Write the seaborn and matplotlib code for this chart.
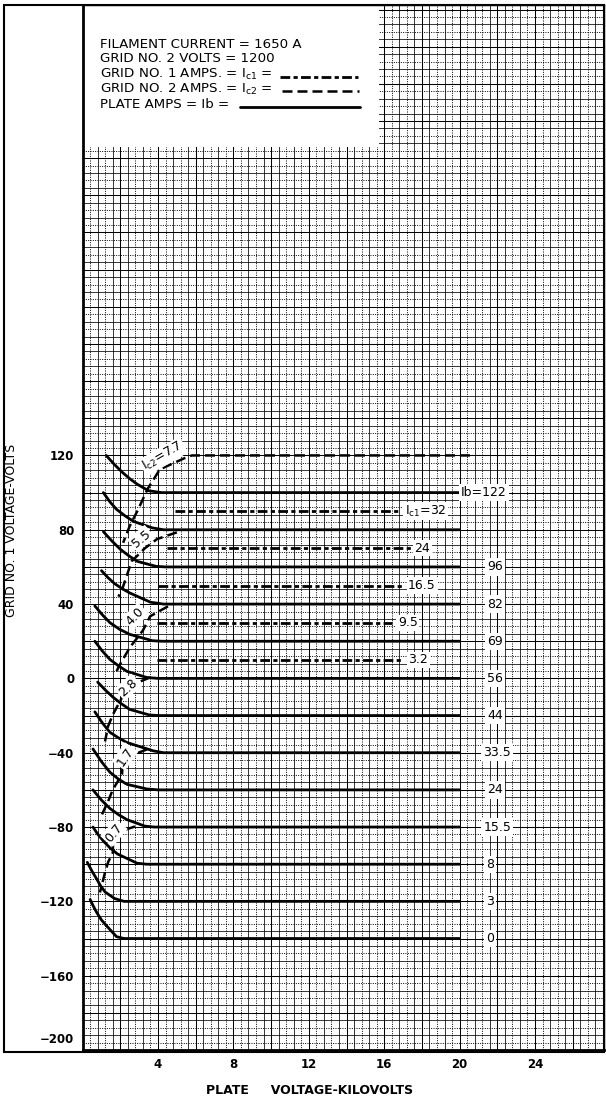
import numpy as np
import matplotlib
matplotlib.use("Agg")
import matplotlib.pyplot as plt
import seaborn as sns
from matplotlib.patches import Rectangle
from matplotlib.lines import Line2D
from matplotlib.transforms import ScaledTranslation

# ---------------- data ----------------
x_ticks = [4, 8, 12, 16, 20, 24]
x_ticklabels = ["4", "8", "12", "16", "20", "24"]
y_ticks = [120, 80, 40, 0, -40, -80, -120, -160, -200]
y_ticklabels = ["120", "80", "40", "0", "\u221240", "\u221280", "\u2212120", "\u2212160", "\u2212200"]

# plate current curves (Ib), solid
ib_labels = ["Ib=122", "", "96", "82", "69", "56", "44", "33.5", "24", "15.5", "8", "3", "0"]
ib_label_x = [21.3, 21.9, 21.9, 21.9, 21.9, 21.9, 21.9, 22.0, 21.9, 22.0, 21.6, 21.6, 21.6]
ib_levels = [100, 80, 60, 40, 20, 0, -20, -40, -60, -80, -100, -120, -140]
ib_x = [
    [1.25, 1.7, 2.1, 2.5, 2.9, 3.5, 4.2, 20],
    [1.1, 1.45, 1.8, 2.25, 2.7, 3.7, 4.3, 20],
    [1.1, 1.55, 2.0, 2.45, 2.9, 3.9, 4.4, 20],
    [1.0, 1.35, 1.7, 2.1, 2.5, 3.6, 4.3, 20],
    [0.65, 1.05, 1.45, 1.95, 2.5, 3.7, 4.2, 20],
    [0.65, 1.05, 1.45, 1.9, 2.35, 3.4, 4.0, 20],
    [0.8, 1.2, 1.6, 2.05, 2.5, 3.55, 4.1, 20],
    [0.65, 1.05, 1.45, 1.9, 2.35, 3.75, 4.3, 20],
    [0.55, 1.0, 1.45, 1.9, 2.35, 3.4, 4.0, 20],
    [0.55, 1.0, 1.45, 1.9, 2.35, 3.3, 3.8, 20],
    [0.55, 0.8, 1.1, 1.45, 1.85, 2.9, 3.4, 20],
    [0.25, 0.5, 0.75, 0.95, 1.2, 1.7, 2.2, 20],
    [0.4, 0.55, 0.75, 1.0, 1.3, 1.8, 2.2, 20],
]
ib_y = [
    [120, 115, 111, 107.5, 104.5, 101, 100, 100],
    [100, 95, 91, 87.5, 84.5, 81, 80, 80],
    [79, 74, 69.5, 66, 63, 60.3, 60, 60],
    [58, 54.2, 51, 48.3, 46, 41, 40, 40],
    [39, 34.2, 30, 26.5, 23.7, 20.3, 20, 20],
    [20, 14.7, 10.2, 6.8, 3.8, 0.5, 0, 0],
    [-2, -6.2, -10, -13.6, -16.7, -19.7, -20, -20],
    [-18, -24, -29, -32, -34.5, -39, -40, -40],
    [-38, -44.8, -50.5, -54.2, -57, -59.5, -60, -60],
    [-60, -65.5, -70, -73.3, -76, -79.5, -80, -80],
    [-80, -83.8, -87.5, -91.2, -94.5, -99.5, -100, -100],
    [-99, -103.8, -108, -111.6, -115, -118.5, -120, -120],
    [-119, -122.2, -126, -130, -133.5, -139, -140, -140],
]

# grid No.1 current (Ic1), dash-dot
ic1_labels = [r"I$_{\mathrm{c1}}$=32", "24", "16.5", "9.5", "3.2"]
ic1_levels = [90, 70, 50, 30, 10]
ic1_start = [4.9, 4.5, 4.0, 3.95, 3.95]
ic1_end = [16.75, 17.4, 17.0, 16.4, 16.95]
ic1_label_x = [17.1, 17.6, 17.27, 16.73, 17.27]

# grid No.2 current (Ic2) contours, dashed
ic2_labels = [r"I$_{\mathrm{c2}}$=7.7", "5.5", "4.0", "2.8", "1.7", "0.7"]
ic2_x = [
    [20.55, 5.8, 5.4, 4.1, 3.45, 2.95, 2.5, 2.15],
    [5.0, 3.95, 3.3, 2.6, 2.1, 1.9],
    [4.53, 3.58, 3.2, 2.51, 1.98, 1.72],
    [3.58, 2.41, 1.98, 1.61, 1.35, 1.19],
    [3.42, 2.7, 2.14, 2.09, 1.61, 1.35, 1.03],
    [2.78, 2.1, 1.61, 1.61, 1.35, 1.19, 0.92],
]
ic2_y = [
    [120, 120, 118.5, 112.5, 102, 91, 82, 73],
    [78.6, 75, 70, 63, 48, 44],
    [38.8, 33.4, 25.8, 16.7, 7.5, 2.2],
    [0.5, -4.3, -12.4, -19.4, -25.8, -33.9],
    [-38.2, -41, -45, -51.7, -59.7, -66.2, -73.2],
    [-79.7, -82, -88, -93.6, -99, -104.4, -115.2],
]
ic2_label_pos = [(4.27, 119.5), (3.1, 75.3), (2.8, 33.4), (2.41, -4.8), (2.25, -42), (1.67, -83)]
ic2_label_rot = [30, 40, 45, 42, 55, 50]

legend_lines = [
    "FILAMENT CURRENT = 1650 A",
    "GRID NO. 2 VOLTS = 1200",
    r"GRID NO. 1 AMPS. = I$_{\mathrm{c1}}$ =",
    r"GRID NO. 2 AMPS. = I$_{\mathrm{c2}}$ =",
    "PLATE AMPS = Ib =",
]

# ---------------- figure ----------------
sns.set_style("white")
plt.rcParams["font.family"] = ["DejaVu Sans"]
plt.rcParams["mathtext.fontset"] = "dejavusans"
for k in ["text.color", "axes.labelcolor", "xtick.color", "ytick.color", "axes.edgecolor"]:
    plt.rcParams[k] = "black"

W, H = 606, 1102
fig = plt.figure(figsize=(W / 100, H / 100), dpi=100)

def fx(px):
    return px / W

def fy(py):
    return 1 - py / H

ax_l, ax_r, ax_t, ax_b = 82.6, 604, 5, 1050
ax = fig.add_axes([fx(ax_l), fy(ax_b), (ax_r - ax_l) / W, (ax_b - ax_t) / H])
XMAX = (ax_r - ax_l) / 18.85
YMIN = -200
YMAX = YMIN + (ax_b - ax_t) / 1.858
ax.set_xlim(0, XMAX)
ax.set_ylim(YMIN, YMAX)

# graph paper
gx = np.arange(1, int(XMAX / 0.4) + 1) * 0.4
gy = -200 + np.arange(1, int((YMAX + 200) / 4) + 1) * 4
solid_x = gx[np.arange(len(gx)) % 2 == 1]
dot_x = gx[np.arange(len(gx)) % 2 == 0]
solid_y = gy[np.arange(len(gy)) % 2 == 1]
dot_y = gy[np.arange(len(gy)) % 2 == 0]
ax.vlines(dot_x, YMIN, YMAX, colors="black", linewidth=0.7, linestyles=(0, (1.0, 1.4)), zorder=0.5)
ax.hlines(dot_y, 0, XMAX, colors="black", linewidth=0.7, linestyles=(0, (1.0, 1.4)), zorder=0.5)
ax.vlines(solid_x, YMIN, YMAX, colors="black", linewidth=0.55, zorder=0.55)
ax.hlines(solid_y, 0, XMAX, colors="black", linewidth=0.55, zorder=0.55)
major_x = np.arange(2, XMAX, 2)
major_y = np.arange(-180, YMAX, 20)
ax.vlines(major_x, YMIN, YMAX, colors="black", linewidth=0.75, zorder=0.6)
ax.hlines(major_y, 0, XMAX, colors="black", linewidth=0.75, zorder=0.6)

# white legend area
ax.add_patch(Rectangle((0, 285.8), 15.7, YMAX - 285.8, facecolor="white", edgecolor="none", zorder=1))

# Ib curves
for xs, ys, lab, lx, lev in zip(ib_x, ib_y, ib_labels, ib_label_x, ib_levels):
    sns.lineplot(x=xs, y=ys, sort=False, estimator=None, color="black", linewidth=2.0, ax=ax, zorder=3)
    if lab:
        ax.text(lx, lev, lab, ha="center", va="center", fontsize=9, zorder=5,
                bbox=dict(facecolor="white", edgecolor="none", pad=1.5))

# Ic1 lines
for lab, lev, x0, x1, lx in zip(ic1_labels, ic1_levels, ic1_start, ic1_end, ic1_label_x):
    sns.lineplot(x=[x0, x1], y=[lev, lev], sort=False, estimator=None, color="black",
                 linewidth=2.0, linestyle=(0, (3.5, 1.2, 1.5, 1.2)), ax=ax, zorder=3)
    ax.text(lx, lev, lab, ha="left", va="center", fontsize=9, zorder=5,
            bbox=dict(facecolor="white", edgecolor="none", pad=1.2))

# Ic2 contours
for xs, ys, lab, pos, rot in zip(ic2_x, ic2_y, ic2_labels, ic2_label_pos, ic2_label_rot):
    sns.lineplot(x=xs, y=ys, sort=False, estimator=None, color="black",
                 linewidth=1.8, linestyle=(0, (4, 2)), ax=ax, zorder=3)
    ax.text(pos[0], pos[1], lab, ha="center", va="center", rotation=rot, fontsize=9, zorder=5,
            rotation_mode="anchor", bbox=dict(facecolor="white", edgecolor="none", pad=1.2))

# ticks
ax.set_xticks(x_ticks, x_ticklabels, fontsize=8.5, fontweight="bold")
ax.set_yticks(y_ticks, y_ticklabels, fontsize=8.5, fontweight="bold")
ax.tick_params(axis="both", length=0, pad=6, colors="black")
ax.set_xlabel("")
ax.set_ylabel("")
for t in ax.get_yticklabels():
    if t.get_text() == "\u2212200":
        t.set_transform(t.get_transform() + ScaledTranslation(0, 12 / 100, fig.dpi_scale_trans))

for side in ["left", "bottom"]:
    ax.spines[side].set_linewidth(2.0)
for side in ["top", "right"]:
    ax.spines[side].set_linewidth(1.0)
for s in ax.spines.values():
    s.set_color("black")
    s.set_zorder(6)

# outer frame
fig.add_artist(Rectangle((fx(4), fy(1052)), (ax_r - 4) / W, (1052 - 5) / H, transform=fig.transFigure,
                         fill=False, edgecolor="black", linewidth=1.5))

# legend text block
leg_y = [44, 59, 74, 89, 104]
for txt, yy in zip(legend_lines, leg_y):
    fig.text(fx(100), fy(yy), txt, ha="left", va="center", fontsize=9.6, color="black")
fig.add_artist(Line2D([fx(280), fx(358)], [fy(77), fy(77)], transform=fig.transFigure, color="black",
                      linewidth=2.0, linestyle=(0, (3.5, 1.2, 1.5, 1.2))))
fig.add_artist(Line2D([fx(282), fx(359)], [fy(91), fy(91)], transform=fig.transFigure, color="black",
                      linewidth=1.8, linestyle=(0, (4, 2))))
fig.add_artist(Line2D([fx(240), fx(360)], [fy(107), fy(107)], transform=fig.transFigure, color="black",
                      linewidth=2.0))

# axis titles
fig.text(fx(12), fy(530), "GRID NO. 1 VOLTAGE-VOLTS", rotation=90, ha="center", va="center", fontsize=9,
         color="black")
fig.text(fx(310), fy(1090), "PLATE     VOLTAGE-KILOVOLTS", ha="center", va="center", fontsize=9,
         fontweight="bold", color="black")

fig.savefig("out.png", dpi=100)
